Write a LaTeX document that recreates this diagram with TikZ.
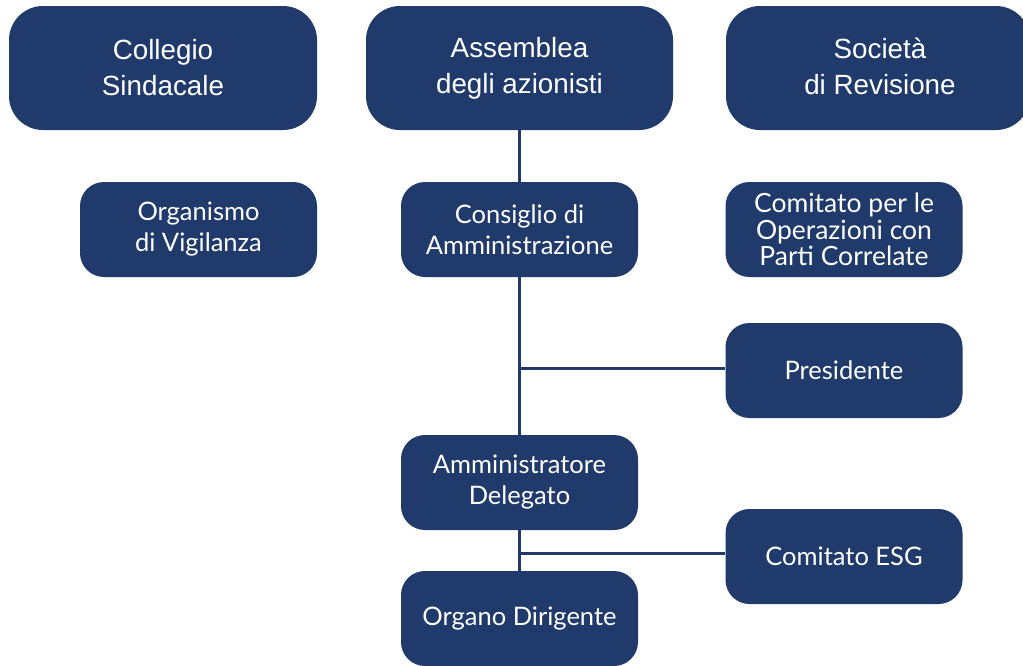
\documentclass[tikz,border=0pt]{standalone}
\usepackage{fontspec}
\setmainfont{Liberation Sans}
\newfontfamily\boxfont{Lato}
\definecolor{navy}{HTML}{1F3A6B}
\begin{document}
\begin{tikzpicture}[x=1pt,y=-1pt,
  bigbox/.style={fill=navy, draw=none, rounded corners=34pt, text=white,
    minimum width=#1, minimum height=124pt, align=center, inner sep=0pt,
    font=\fontsize{27.8}{36}\selectfont},
  bigbox/.default=308pt,
  smallbox/.style={fill=navy, draw=none, rounded corners=24pt, text=white,
    minimum width=237pt, minimum height=95pt, align=center, inner sep=0pt,
    font=\boxfont\fontsize{25.5}{31}\selectfont},
  tinybox/.style={smallbox, font=\boxfont\fontsize{26.5}{26.5}\selectfont},
  link/.style={draw=navy, line width=3pt}]
\useasboundingbox (0,0) rectangle (1023,665);
\clip (0,0) rectangle (1023,665);
\node[bigbox=308pt] (cs) at (163,68) {Collegio\\Sindacale};
\node[bigbox=307pt] (aa) at (519.5,68) {Assemblea\\degli azionisti};
\node[bigbox=304pt] (sr) at (878,68) {};
\node[text=white, align=center, inner sep=0pt, font=\fontsize{27.8}{36}\selectfont]
  (srt) at (880,66) {Società\\di Revisione};
\node[smallbox] (ov) at (198.5,229.5) {Organismo\\di Vigilanza};
\node[smallbox] (cda) at (519.5,229.5) {Consiglio di\\Amministrazione};
\node[tinybox] (opc) at (844,229.5) {Comitato per le\\Operazioni con\\Parti Correlate};
\node[smallbox] (pr) at (844,370.5) {Presidente};
\node[smallbox] (ad) at (519.5,482.5) {Amministratore\\Delegato};
\node[smallbox] (od) at (519.5,618.5) {Organo Dirigente};
\node[smallbox] (esg) at (844,556.5) {Comitato ESG};
\coordinate (j1) at (520,368);
\coordinate (j2) at (520,553);
\draw[link] (aa.south) -- (cda.north);
\draw[link] (cda.south) -- (ad.north);
\draw[link] (ad.south) -- (od.north);
\draw[link] (j1) -- (j1 -| pr.west);
\draw[link] (j2) -- (j2 -| esg.west);
\end{tikzpicture}
\end{document}
